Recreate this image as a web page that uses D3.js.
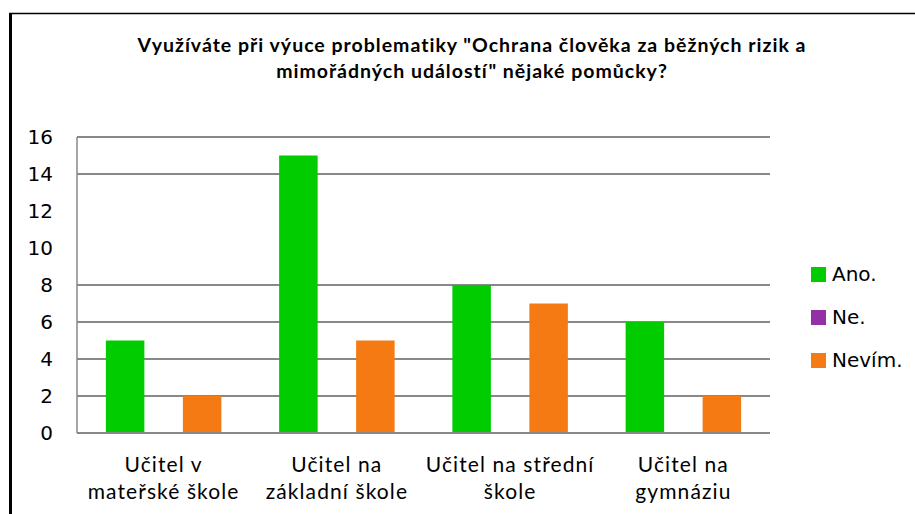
<!DOCTYPE html>
<html>
<head>
<meta charset="utf-8">
<script src="https://cdn.jsdelivr.net/npm/d3@7"></script>
<style>
  html, body { margin: 0; padding: 0; background: #fff; }
  svg { display: block; }
</style>
</head>
<body>
<svg id="chart" width="915" height="514"></svg>
<script>
const titleLines = ["Využíváte při výuce problematiky \"Ochrana člověka za běžných rizik a", "mimořádných událostí\" nějaké pomůcky?"];
const categories = [
  ["Učitel v", "mateřské škole"],
  ["Učitel na", "základní škole"],
  ["Učitel na střední", "škole"],
  ["Učitel na", "gymnáziu"]
];
const seriesNames = ["Ano.", "Ne.", "Nevím."];
const ano = [5, 15, 8, 6];
const ne = [0, 0, 0, 0];
const nevim = [2, 5, 7, 2];
const yTicks = [0, 2, 4, 6, 8, 10, 12, 14, 16];
const gridValues = [2, 4, 6, 8, 14, 16];
const colors = ["#00CC00", "#9330A6", "#F57A14"];

(function () {
const seriesValues = [ano, ne, nevim];
const svg = d3.select("#chart");

// outer frame
svg.append("line").attr("x1", 9).attr("x2", 915).attr("y1", 13.5).attr("y2", 13.5)
  .attr("stroke", "#000").attr("stroke-width", 1.5);
svg.append("line").attr("x1", 10.5).attr("x2", 10.5).attr("y1", 13).attr("y2", 514)
  .attr("stroke", "#000").attr("stroke-width", 3);

// title
svg.append("text").attr("x", 472).attr("y", 52).attr("text-anchor", "middle")
  .style("font-family", "Lato").style("font-weight", "bold").style("font-size", "19.5px")
  .style("letter-spacing", "1px")
  .selectAll("tspan").data(titleLines).join("tspan")
  .attr("x", 472).attr("dy", (d, i) => i === 0 ? 0 : 26).text(d => d);

const pL = 77, pR = 770, pT = 137, pB = 433;
const x = d3.scaleBand().domain(d3.range(categories.length)).range([pL, pR]).padding(0);
const xs = d3.scaleBand().domain(d3.range(seriesNames.length)).range([0, x.bandwidth()])
  .paddingInner(0).paddingOuter(0.75);
const y = d3.scaleLinear().domain([0, 16]).range([pB, pT]);

// gridlines
svg.append("g").selectAll("line").data(gridValues).join("line")
  .attr("x1", pL).attr("x2", pR)
  .attr("y1", d => Math.round(y(d))).attr("y2", d => Math.round(y(d)))
  .attr("stroke", "#888").attr("stroke-width", 2);

// bars
const bars = [];
seriesValues.forEach((vals, s) => vals.forEach((v, c) => bars.push({s, c, v})));
svg.append("g").selectAll("rect").data(bars.filter(d => d.v > 0)).join("rect")
  .attr("x", d => x(d.c) + xs(d.s))
  .attr("width", xs.bandwidth())
  .attr("y", d => y(d.v))
  .attr("height", d => y(0) - y(d.v))
  .attr("fill", d => colors[d.s]);

// axes lines
svg.append("line").attr("x1", pL).attr("x2", pR).attr("y1", pB).attr("y2", pB)
  .attr("stroke", "#888").attr("stroke-width", 2);
svg.append("line").attr("x1", pL).attr("x2", pL).attr("y1", pT).attr("y2", pB)
  .attr("stroke", "#888").attr("stroke-width", 1.5);

// y tick labels
svg.append("g").selectAll("text").data(yTicks).join("text")
  .attr("x", 53).attr("y", d => y(d) + 7)
  .attr("text-anchor", "end")
  .style("font-family", "DejaVu Sans").style("font-size", "20px").style("fill", "#000")
  .text(d => d);

// category labels
const cat = svg.append("g").selectAll("text").data(categories).join("text")
  .attr("text-anchor", "middle")
  .style("font-family", "Lato").style("font-size", "21px").style("fill", "#000")
  .style("letter-spacing", "1.1px");
cat.selectAll("tspan").data((d, i) => d.map(t => ({t, i}))).join("tspan")
  .attr("x", d => x(d.i) + x.bandwidth() / 2)
  .attr("y", (d, j) => 472 + j * 27)
  .text(d => d.t);

// legend
const lg = svg.append("g").selectAll("g").data(seriesNames).join("g")
  .attr("transform", (d, i) => `translate(811, ${267 + i * 43})`);
lg.append("rect").attr("width", 15).attr("height", 15).attr("fill", (d, i) => colors[i]);
lg.append("text").attr("x", 21).attr("y", 14)
  .style("font-family", "DejaVu Sans").style("font-size", "20px").style("fill", "#000")
  .text(d => d);
})();
</script>
</body>
</html>
